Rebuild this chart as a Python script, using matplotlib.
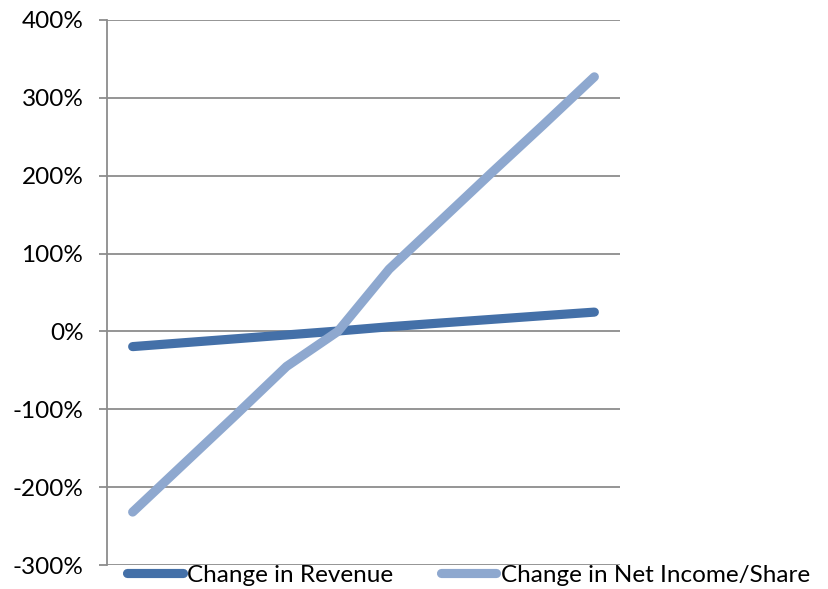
import matplotlib
matplotlib.use("Agg")
import matplotlib.pyplot as plt
from matplotlib.ticker import FuncFormatter

periods = list(range(10))
revenue_change = [-19.5, -14.5, -9.5, -4.5, 0.5, 6.0, 10.8, 15.5, 20.2, 24.8]
net_income_change = [-232, -170, -108, -45, 0, 80, 142, 204, 265, 327]
yticks = [-300, -200, -100, 0, 100, 200, 300, 400]

plt.rcParams['font.family'] = ['Lato', 'DejaVu Sans']

fig = plt.figure(figsize=(8.29, 5.89), dpi=100)
ax = fig.add_axes([107/829, 1-565/589, (620-107)/829, (565-20)/589])

dark = '#4470A8'
light = '#8EA8CF'
l1, = ax.plot(periods, revenue_change, color=dark, lw=6.6, solid_capstyle='round',
              solid_joinstyle='round', label='Change in Revenue', zorder=3)
l2, = ax.plot(periods, net_income_change, color=light, lw=6.6, solid_capstyle='round',
              solid_joinstyle='round', label='Change in Net Income/Share', zorder=4)

ax.set_xlim(-0.5, 9.5)
ax.set_ylim(-300, 400)
ax.set_yticks(yticks)
ax.yaxis.set_major_formatter(FuncFormatter(lambda v, p: f"{int(v)}%"))
ax.set_xticks([])
ax.grid(axis='y', color='#8C8C8C', lw=1.3)
ax.set_axisbelow(True)
for s in ['top', 'right', 'bottom']:
    ax.spines[s].set_visible(False)
ax.spines['left'].set_color('#8C8C8C')
ax.spines['left'].set_linewidth(1.3)
ax.tick_params(axis='y', length=6, width=1.3, color='#8C8C8C', pad=11, labelsize=17.5)

fig.legend(handles=[l1, l2], loc='center left', bbox_to_anchor=(127/829, 1-575/589),
           ncol=2, frameon=False, fontsize=17.5, handlelength=2.3, handletextpad=0.17,
           columnspacing=1.95, borderpad=0, borderaxespad=0)

fig.savefig('out.png', dpi=100)
